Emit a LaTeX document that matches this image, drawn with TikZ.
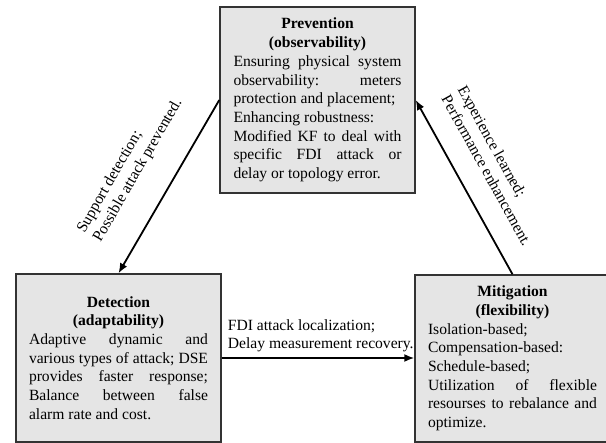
\documentclass[tikz,border=0pt]{standalone}
\usepackage{fontspec}
\setmainfont{Liberation Serif}
\usetikzlibrary{arrows.meta}
\hyphenpenalty=10000
\exhyphenpenalty=10000
\tolerance=10000
\hbadness=10000
\begin{document}
\begin{tikzpicture}[x=1pt,y=-1pt,
  txt/.style={font=\fontsize{15.6}{18.7}\selectfont},
  box/.style={txt, draw=black!80, line width=1.4pt, fill=black!10, inner xsep=0pt, inner ysep=0pt, align=justify},
  lbl/.style={txt, align=left, inner sep=0pt},
  arr/.style={draw=black, line width=1.8pt, -{Latex[length=10pt,width=8pt]}}]
\clip (0,0) rectangle (606,443);
\node[box, minimum width=195pt, minimum height=186pt, text width=168pt] (prev) at (317.5,100)
  {{\centering\bfseries Prevention\par (observability)\par}
   Ensuring physical system\linebreak observability: meters\linebreak protection and placement;\par
   Enhancing robustness:\par
   Modified KF to deal with\linebreak specific FDI attack or\linebreak delay or topology error.};
\node[box, minimum width=205pt, minimum height=168pt, text width=179pt] (det) at (118.5,358)
  {{\centering\bfseries Detection\par (adaptability)\par}
   Adaptive dynamic and\linebreak various types of attack; DSE\linebreak provides faster response;\linebreak Balance between false\linebreak alarm rate and cost.};
\node[box, minimum width=195pt, minimum height=167pt, text width=169pt] (mit) at (512.5,358.5)
  {{\centering\bfseries Mitigation\par (flexibility)\par}
   Isolation-based;\par
   Compensation-based:\par
   Schedule-based;\par
   Utilization of flexible\linebreak resourses to rebalance and\linebreak optimize.};
\draw[arr] (prev.west) -- (det.north);
\draw[arr] (mit.north) -- (prev.east);
\draw[arr] (det.east) -- (det.east -| mit.west);
\node[lbl, rotate=60] (l1) at (130,166) {Support detection;\\Possible attack prevented.};
\node[lbl, rotate=-61] (l2) at (495,166) {Experience learned;\\Performance enhancement.};
\node[lbl, anchor=south west] (l3) at ([xshift=6pt,yshift=5.5pt]det.east) {FDI attack localization;\\Delay measurement recovery.};
\end{tikzpicture}
\end{document}
